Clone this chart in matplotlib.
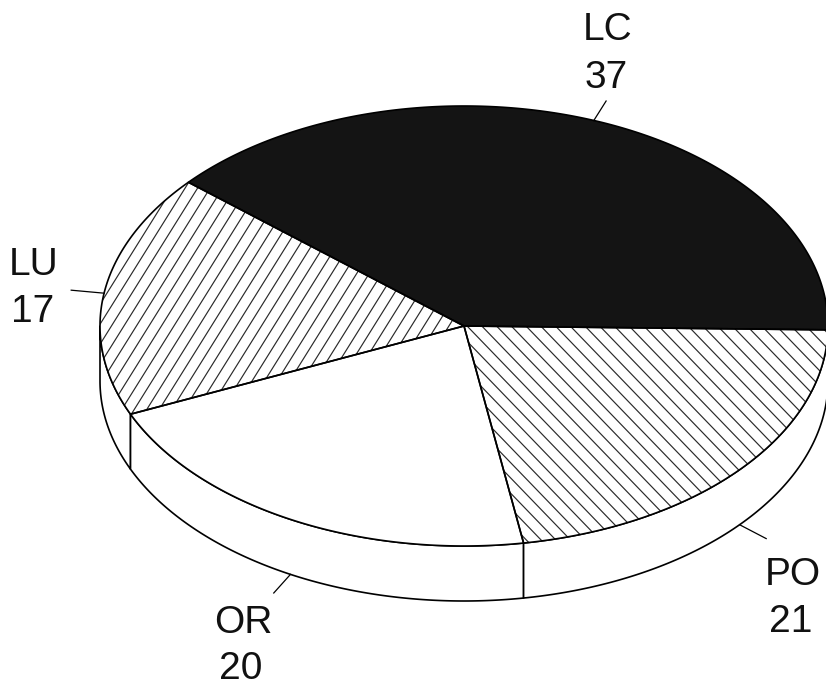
import numpy as np
import matplotlib
matplotlib.use('Agg')
import matplotlib.pyplot as plt
from matplotlib.patches import Polygon
from matplotlib.collections import LineCollection

# ---- data ----
labels = ['LC', 'LU', 'OR', 'PO']
values = [37, 17, 20, 21]

# ---- styles / layout ----
fills = ['#141414', 'white', 'white', 'white']
hatch_angles = [None, 58, None, -46]   # screen degrees, None = no hatch
hatch_spacing = 10.6
leader_len = [23, 33, 25, 30]
label_pos = {  # (name_x, name_baseline, value_x, value_baseline, ha)
    'LC': (608, 40, 606, 88, 'center'),
    'LU': (34, 275, 33, 322, 'center'),
    'OR': (243, 633, 241, 679, 'center'),
    'PO': (765, 585, 791, 632, 'left'),
}

W, H = 826, 688
fig = plt.figure(figsize=(W / 100, H / 100), dpi=100)
ax = fig.add_axes([0, 0, 1, 1])
ax.set_xlim(0, W)
ax.set_ylim(H, 0)
ax.axis('off')

cx, cy, a, b, depth = 464, 326, 364, 220, 55
start = -1.0
LW = 1.2


def pts(thetas, dz=0.0):
    t = np.radians(thetas)
    return np.column_stack([cx + a * np.cos(t), cy - b * np.sin(t) + dz])


total = float(sum(values))
bounds = start + np.concatenate([[0], np.cumsum(values)]) / total * 360.0

# ---- side walls (front half only) ----
for i in range(len(values)):
    lo, hi = bounds[i], bounds[i + 1]
    for flo, fhi in [(180, 360), (-180, 0), (540, 720)]:
        s, e = max(lo, flo), min(hi, fhi)
        if e - s <= 0:
            continue
        th = np.linspace(s, e, 200)
        top = pts(th, 0)
        bot = pts(th[::-1], depth)
        poly = Polygon(np.vstack([top, bot]), closed=True, facecolor='white',
                       edgecolor='black', lw=LW, joinstyle='round', zorder=1)
        ax.add_patch(poly)

# ---- top face ----
for i in range(len(values)):
    lo, hi = bounds[i], bounds[i + 1]
    th = np.linspace(lo, hi, 300)
    verts = np.vstack([[cx, cy], pts(th, 0)])
    fill = Polygon(verts, closed=True, facecolor=fills[i], edgecolor='none',
                   zorder=3)
    ax.add_patch(fill)
    phi = hatch_angles[i]
    if phi is not None:
        p = np.radians(phi)
        d = np.array([np.cos(p), -np.sin(p)])
        n = np.array([np.sin(p), np.cos(p)])
        L = 1200
        segs = []
        for off in np.arange(-1200, 1200, hatch_spacing):
            c = np.array([cx, cy]) + off * n
            segs.append([c - L * d, c + L * d])
        lc = LineCollection(segs, colors='#2a2a2a', linewidths=0.85, zorder=4)
        ax.add_collection(lc)
        lc.set_clip_path(fill)
    edge = Polygon(verts, closed=True, facecolor='none', edgecolor='black',
                   lw=LW, joinstyle='round', zorder=5)
    ax.add_patch(edge)

# ---- leaders and labels ----
for i, lab in enumerate(labels):
    m = 0.5 * (bounds[i] + bounds[i + 1])
    if np.sin(np.radians(m)) >= 0:
        p0 = pts([m], 0)[0]
        c0 = np.array([cx, cy])
    else:
        p0 = pts([m], depth)[0]
        c0 = np.array([cx, cy + depth])
    v = p0 - c0
    v = v / np.hypot(*v)
    p1 = p0 + leader_len[i] * v
    ax.plot([p0[0], p1[0]], [p0[1], p1[1]], color='black', lw=0.9, zorder=6)
    nx, ny, vx, vy, ha = label_pos[lab]
    ax.text(nx, ny, lab, ha=ha, va='baseline', fontsize=28,
            family='Liberation Sans', color='#111111')
    ax.text(vx, vy, str(values[i]), ha='center', va='baseline', fontsize=28,
            family='Liberation Sans', color='#111111')

fig.savefig('out.png', dpi=100, facecolor='white')
